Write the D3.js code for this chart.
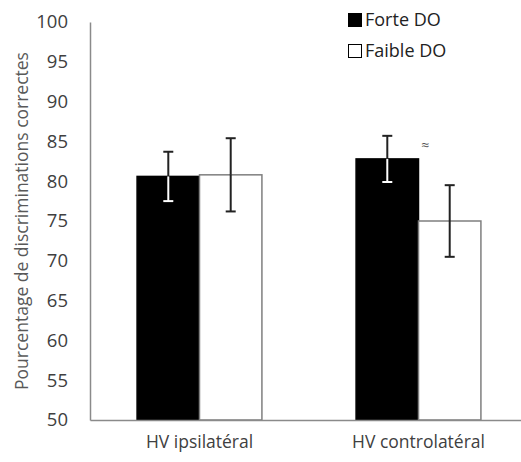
<!DOCTYPE html>
<html><head><meta charset="utf-8">
<script src="https://cdn.jsdelivr.net/npm/d3@7"></script>
<style>body{margin:0;background:#fff}svg{display:block}</style>
</head><body>
<svg id="c" width="521" height="462"></svg>
<script>
const categories = ["HV ipsilatéral", "HV controlatéral"];
const seriesNames = ["Forte DO", "Faible DO"];
const forteValues = [80.6, 82.8];
const faibleValues = [80.8, 75.0];
const forteErrors = [3.1, 2.9];
const faibleErrors = [4.6, 4.5];
const yTicks = [50, 55, 60, 65, 70, 75, 80, 85, 90, 95, 100];
const annotations = [{cat: 1, text: "≈"}];

const svg = d3.select("#c");
const font = "'Open Sans', sans-serif";
const y = d3.scaleLinear().domain([50, 100]).range([420, 22]);
const x0 = d3.scaleBand().domain(categories).range([90, 528]).paddingInner(0.43).paddingOuter(0.215);
const x1 = d3.scaleBand().domain(seriesNames).range([0, x0.bandwidth()]);

const data = categories.map((c, i) => [
  {cat: c, s: seriesNames[0], v: forteValues[i], e: forteErrors[i], fill: "#000"},
  {cat: c, s: seriesNames[1], v: faibleValues[i], e: faibleErrors[i], fill: "#fff"}
]).flat();

// bars
svg.append("g").selectAll("rect").data(data).join("rect")
  .attr("x", d => x0(d.cat) + x1(d.s))
  .attr("y", d => y(d.v))
  .attr("width", x1.bandwidth())
  .attr("height", d => y(50) - y(d.v))
  .attr("fill", d => d.fill)
  .attr("stroke", d => d.fill === "#000" ? "#000" : "#7f7f7f")
  .attr("stroke-width", 1.5);

// axes
const yAxis = svg.append("g").attr("transform", "translate(90,0)")
  .call(d3.axisLeft(y).tickValues(yTicks).tickSize(0).tickPadding(22));
yAxis.select(".domain").attr("stroke", "#8a8a8a").attr("stroke-width", 1.5);
yAxis.selectAll("text").attr("font-family", font).attr("font-size", 18.5).attr("fill", "#404040");

const xAxis = svg.append("g").attr("transform", "translate(0,420)")
  .call(d3.axisBottom(x0).tickSize(0).tickPadding(16));
xAxis.select(".domain").attr("stroke", "#8a8a8a").attr("stroke-width", 1.5);
xAxis.selectAll("text").attr("font-family", font).attr("font-size", 17.5).attr("fill", "#404040");

// error bars
const eb = svg.append("g");
data.forEach(d => {
  const cx = x0(d.cat) + x1(d.s) + x1.bandwidth() / 2;
  const top = y(d.v + d.e), bot = y(d.v - d.e), barTop = y(d.v);
  const dark = "#222";
  const lowColor = d.fill === "#000" ? "#fff" : dark;
  eb.append("line").attr("x1", cx).attr("x2", cx).attr("y1", top).attr("y2", barTop)
    .attr("stroke", dark).attr("stroke-width", 2);
  eb.append("line").attr("x1", cx).attr("x2", cx).attr("y1", barTop).attr("y2", bot)
    .attr("stroke", lowColor).attr("stroke-width", 2);
  eb.append("line").attr("x1", cx - 5).attr("x2", cx + 5).attr("y1", top).attr("y2", top)
    .attr("stroke", dark).attr("stroke-width", 2);
  eb.append("line").attr("x1", cx - 5).attr("x2", cx + 5).attr("y1", bot).attr("y2", bot)
    .attr("stroke", lowColor).attr("stroke-width", 2);
});

// annotation
annotations.forEach(a => {
  const c = categories[a.cat];
  svg.append("text")
    .attr("x", x0(c) + x1(seriesNames[0]) + x1.bandwidth() + 7)
    .attr("y", y(forteValues[a.cat] + forteErrors[a.cat]) + 14)
    .attr("text-anchor", "middle").attr("font-family", font).attr("font-size", 14).attr("fill", "#555")
    .text(a.text);
});

// y label
svg.append("text")
  .attr("transform", "translate(28,221) rotate(-90)")
  .attr("text-anchor", "middle").attr("font-family", font).attr("font-size", 17.5).attr("fill", "#595959")
  .text("Pourcentage de discriminations correctes");

// legend
const lg = svg.append("g").attr("transform", "translate(348,13)");
seriesNames.forEach((s, i) => {
  const g = lg.append("g").attr("transform", `translate(0,${i * 31})`);
  g.append("rect").attr("x", 0.5).attr("y", 0.5).attr("width", 13).attr("height", 13)
    .attr("fill", i === 0 ? "#000" : "#fff").attr("stroke", "#000").attr("stroke-width", 1);
  g.append("text").attr("x", 17).attr("y", 13).attr("font-family", font).attr("font-size", 18)
    .attr("fill", "#222").text(s);
});
</script>
</body></html>
